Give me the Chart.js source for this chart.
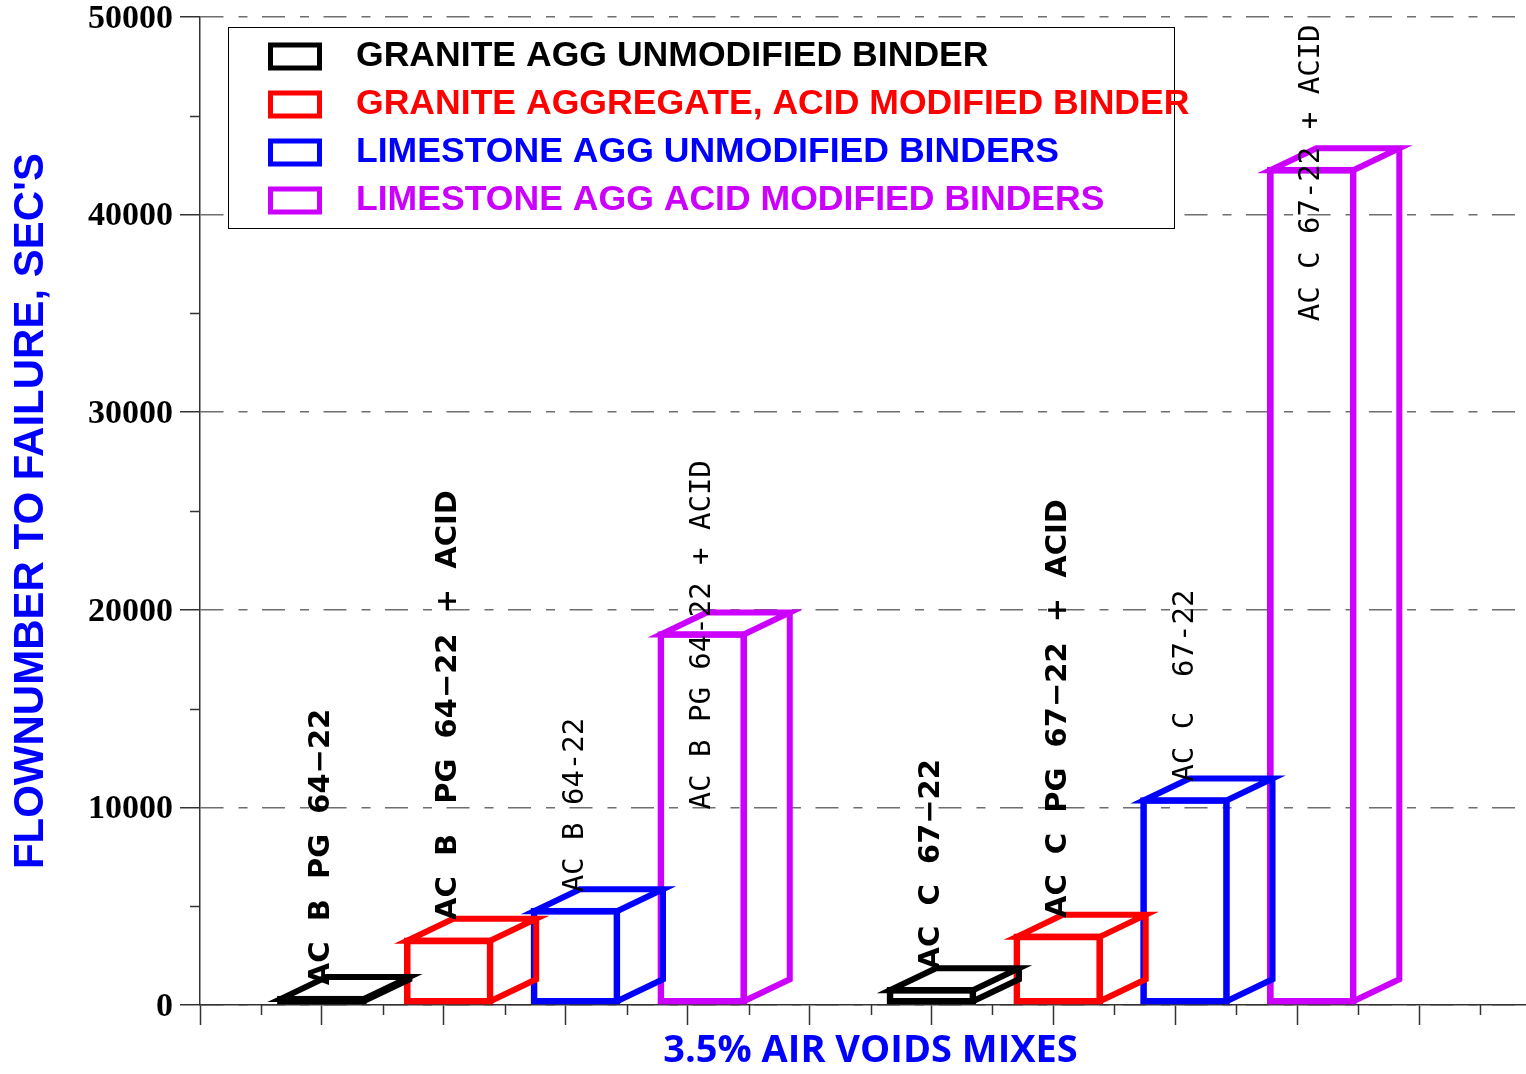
<!DOCTYPE html>
<html>
<head>
<meta charset="utf-8">
<title>Flow number to failure - 3.5% air voids mixes</title>
<script src="https://cdn.jsdelivr.net/npm/chart.js@4.4.1/dist/chart.umd.min.js"></script>
<style>
    html, body { margin: 0; padding: 0; background: #fff; overflow: hidden; }
    canvas { display: block; }
</style>
</head>
<body>
<canvas id="flowChart" width="1541" height="1074"></canvas>
<script>
// binder groups along the x axis
var mixes = ["AC B (PG 64-22)", "AC C (PG 67-22)"];

var seriesNames = [
    "GRANITE AGG UNMODIFIED BINDER",
    "GRANITE AGGREGATE, ACID MODIFIED BINDER",
    "LIMESTONE AGG UNMODIFIED BINDERS",
    "LIMESTONE AGG ACID MODIFIED BINDERS"
];

// flow number to failure (sec), one value per mix
var graniteUnmodified = [450, 900];
var graniteAcid = [3400, 3600];
var limestoneUnmodified = [4900, 10500];
var limestoneAcid = [18900, 42400];

// text written up each bar
var graniteUnmodifiedText = ["AC  B  PG  64\u221222", "AC  C  67\u221222"];
var graniteAcidText = ["AC  B   PG  64\u221222  +  ACID", "AC  C  PG  67\u221222  +  ACID"];
var limestoneUnmodifiedText = ["AC B 64-22", "AC C  67-22"];
var limestoneAcidText = ["AC B PG 64-22 + ACID", "AC C 67-22 + ACID"];

var yTicks = [0, 10000, 20000, 30000, 40000, 50000];

var seriesValues = [graniteUnmodified, graniteAcid, limestoneUnmodified, limestoneAcid];
var seriesText = [graniteUnmodifiedText, graniteAcidText, limestoneUnmodifiedText, limestoneAcidText];
var colors = ["#000000", "#ff0000", "#0000ff", "#cc00ff"];
// granite labels are bold sans, limestone labels plain mono
var textFonts = [
    'bold 29px "DejaVu Sans"',
    'bold 29px "DejaVu Sans"',
    '29px "DejaVu Sans Mono"',
    '29px "DejaVu Sans Mono"'
];

// where the bar text starts, in flow number units
var textStart = [[1000, 1800], [4300, 4400], [5700, 11300], [9900, 34600]];

// bar layout on the x axis (0..11)
var groupStart = [1, 6];
var barStep = 1.04;
var depthX = 46, depthY = 22;

var datasets = seriesValues.map(function (vals, s) {
    return {
        label: seriesNames[s],
        data: vals.map(function (v, g) {
            return { x: groupStart[g] + s * barStep, y: v };
        }),
        borderColor: colors[s],
        backgroundColor: "rgba(0,0,0,0)",
        borderWidth: 6,
        borderSkipped: false,
        barThickness: 89,
        grouped: false
    };
});

// top and side faces plus the text on each bar
var boxFaces = {
    id: "boxFaces",
    afterDatasetsDraw: function (chart) {
        var ctx = chart.ctx;
        var yScale = chart.scales.y;
        chart.data.datasets.forEach(function (ds, s) {
            var meta = chart.getDatasetMeta(s);
            meta.data.forEach(function (bar, g) {
                var p = bar.getProps(["x", "y", "base", "width"], true);
                var bw = ds.borderWidth;
                var L = p.x - p.width / 2 + bw / 2;
                var R = p.x + p.width / 2 - bw / 2;
                var T = p.y + bw / 2;
                var B = p.base - bw / 2;

                ctx.save();
                ctx.strokeStyle = ds.borderColor;
                ctx.lineWidth = bw;
                ctx.lineJoin = "miter";
                ctx.beginPath();
                ctx.moveTo(L, T);
                ctx.lineTo(L + depthX, T - depthY);
                ctx.lineTo(R + depthX, T - depthY);
                ctx.lineTo(R, T);
                ctx.closePath();
                ctx.moveTo(R + depthX, T - depthY);
                ctx.lineTo(R + depthX, B - depthY);
                ctx.lineTo(R, B);
                ctx.stroke();
                ctx.restore();

                ctx.save();
                ctx.font = textFonts[s];
                ctx.fillStyle = "#000";
                ctx.textAlign = "left";
                ctx.textBaseline = "middle";
                ctx.translate(p.x, yScale.getPixelForValue(textStart[s][g]));
                ctx.rotate(-Math.PI / 2);
                ctx.fillText(seriesText[s][g], 0, 0);
                ctx.restore();
            });
        });
    }
};

// short minor ticks between the labelled ones
var minorTicks = {
    id: "minorTicks",
    afterDraw: function (chart) {
        var ctx = chart.ctx;
        var x = chart.scales.x, y = chart.scales.y;
        var area = chart.chartArea;
        ctx.save();
        ctx.strokeStyle = "#333";
        ctx.lineWidth = 1.5;
        ctx.beginPath();
        for (var v = 5000; v < 50000; v += 10000) {
            var py = Math.round(y.getPixelForValue(v)) + 0.5;
            ctx.moveTo(area.left - 10, py);
            ctx.lineTo(area.left, py);
        }
        for (var u = 0.5; u < x.max; u += 1) {
            var px = Math.round(x.getPixelForValue(u)) + 0.5;
            ctx.moveTo(px, area.bottom);
            ctx.lineTo(px, area.bottom + 10);
        }
        ctx.stroke();
        ctx.restore();
    }
};

// boxed legend in the upper left of the plot
var legendBox = {
    id: "legendBox",
    afterDraw: function (chart) {
        var ctx = chart.ctx;
        var left = chart.chartArea.left + 28;
        var top = chart.chartArea.top + 10;
        ctx.save();
        ctx.fillStyle = "#fff";
        ctx.fillRect(left, top, 947, 202);
        ctx.strokeStyle = "#000";
        ctx.lineWidth = 1;
        ctx.strokeRect(left + 0.5, top + 0.5, 946, 201);
        ctx.font = 'bold 35.6px "Liberation Sans"';
        ctx.textAlign = "left";
        ctx.textBaseline = "middle";
        chart.data.datasets.forEach(function (ds, i) {
            var cy = top + 29.5 + i * 48;
            ctx.strokeStyle = ds.borderColor;
            ctx.lineWidth = 5;
            ctx.strokeRect(left + 42.5, cy - 11.5, 49, 23);
            ctx.fillStyle = ds.borderColor;
            ctx.fillText(ds.label, left + 128, cy);
        });
        ctx.restore();
    }
};

var ctx = document.getElementById("flowChart").getContext("2d");
var flowChart = new Chart(ctx, {
    type: "bar",
    data: {
        datasets: datasets
    },
    options: {
        responsive: false,
        animation: false,
        devicePixelRatio: 1,
        layout: {
            padding: { top: 17, left: 0, right: 0, bottom: 0 }
        },
        plugins: {
            legend: { display: false },
            tooltip: { enabled: false }
        },
        scales: {
            x: {
                type: "linear",
                min: 0,
                max: 11,
                offset: false,
                ticks: { display: false, stepSize: 1 },
                grid: {
                    offset: false,
                    drawOnChartArea: false,
                    drawTicks: true,
                    tickLength: 20,
                    tickColor: "#333",
                    tickWidth: 1.5
                },
                border: { display: true, color: "#333", width: 1.5 },
                title: {
                    display: true,
                    text: "3.5% AIR VOIDS MIXES",
                    color: "#0000ff",
                    font: { family: '"Open Sans"', size: 38, weight: "bold", lineHeight: 1.2 },
                    padding: { top: 0, bottom: 0 }
                },
                afterFit: function (scale) {
                    scale.height = 69;
                    scale.paddingLeft = 0;
                    scale.paddingRight = 0;
                }
            },
            y: {
                type: "linear",
                min: 0,
                max: 50000,
                afterBuildTicks: function (scale) {
                    scale.ticks = yTicks.map(function (v) { return { value: v }; });
                },
                ticks: {
                    color: "#000",
                    padding: 7,
                    labelOffset: 2,
                    font: { family: '"Liberation Serif"', size: 34, weight: "bold", lineHeight: 1 },
                    callback: function (value) { return String(value); }
                },
                grid: {
                    color: "#6e6e6e",
                    lineWidth: 1.5,
                    drawTicks: true,
                    tickLength: 20,
                    tickColor: "#333",
                    tickWidth: 1.5
                },
                border: { display: true, color: "#333", width: 1.5, dash: [23, 15, 9, 14.5] },
                title: {
                    display: true,
                    text: "FLOWNUMBER TO FAILURE, SEC'S",
                    color: "#0000ff",
                    font: { family: '"Liberation Sans"', size: 42, weight: "bold", lineHeight: 1.2 },
                    padding: { top: 6, bottom: 0 }
                },
                afterFit: function (scale) {
                    scale.width = 200;
                    scale.paddingTop = 0;
                    scale.paddingBottom = 0;
                }
            }
        }
    },
    plugins: [boxFaces, minorTicks, legendBox]
});
</script>
</body>
</html>
